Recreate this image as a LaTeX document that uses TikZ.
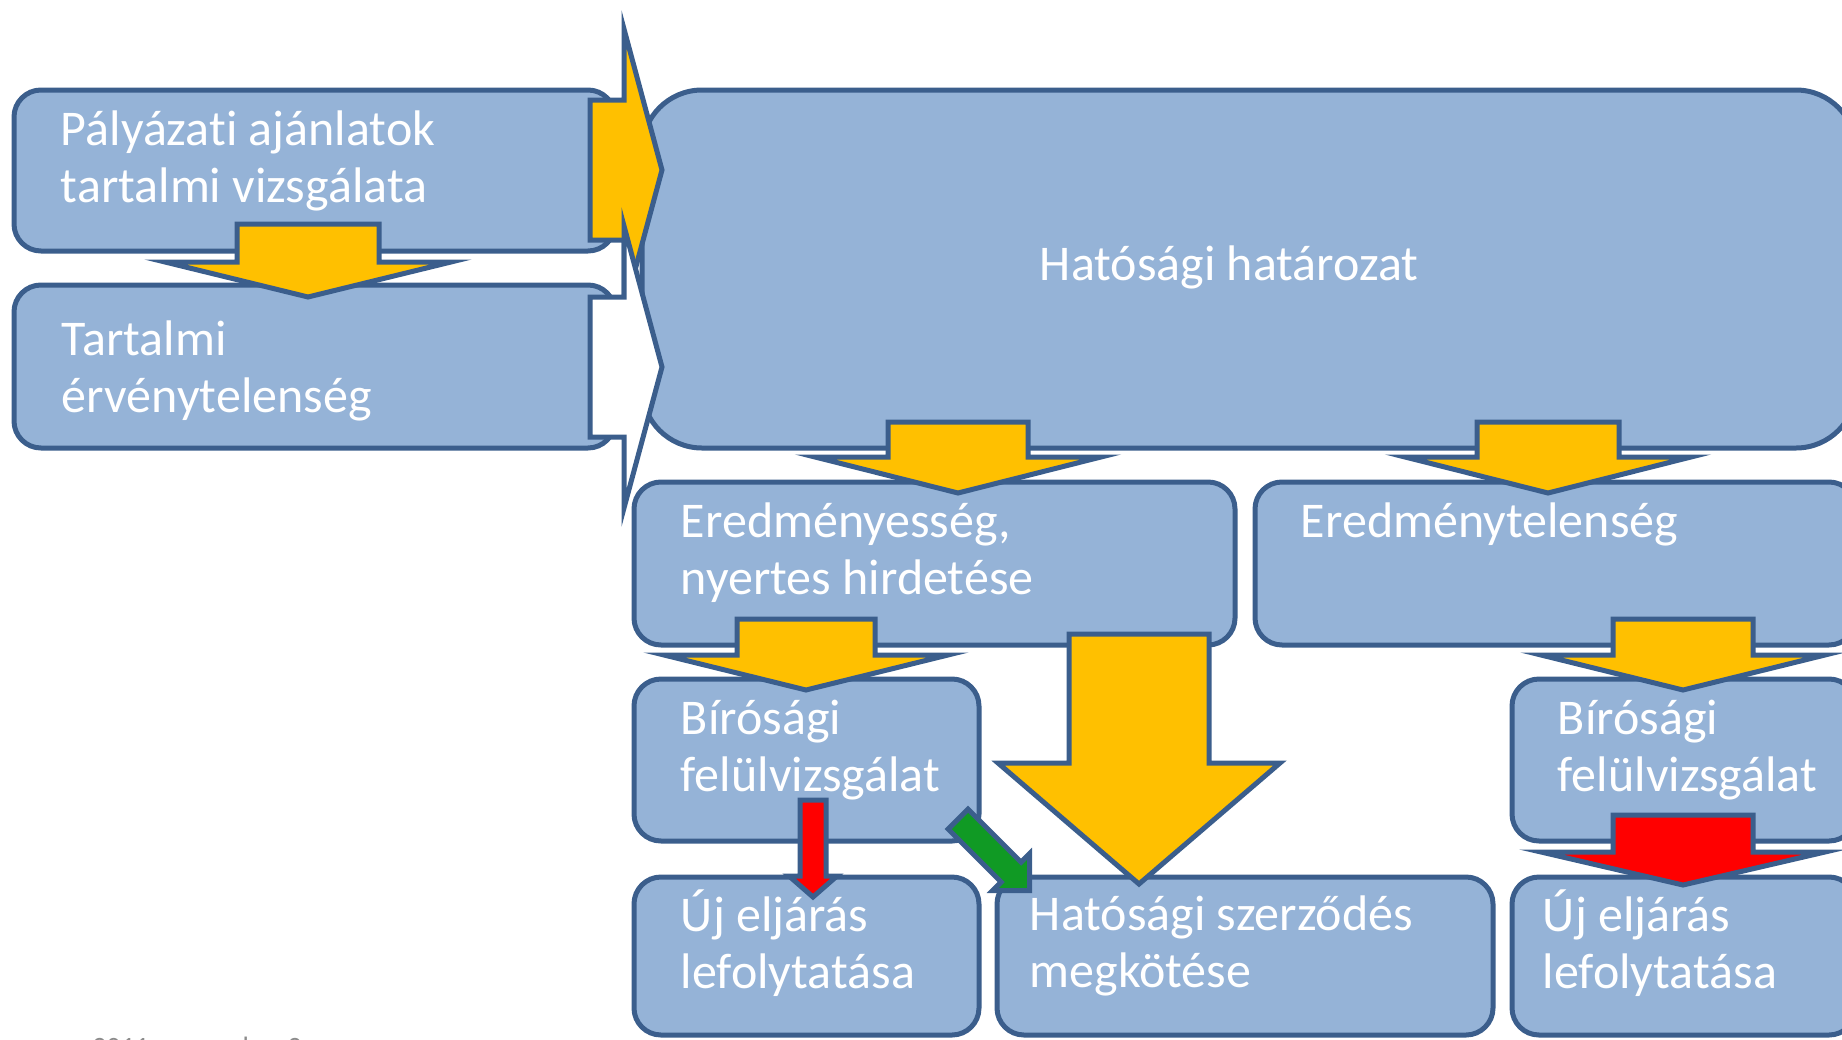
\documentclass[tikz,border=0pt]{standalone}
\usepackage{fontspec}
\setmainfont{Carlito}[Ligatures=NoCommon]
\usetikzlibrary{calc,fit}
\definecolor{boxfill}{HTML}{95B3D7}
\definecolor{boxline}{HTML}{3B5E8C}
\definecolor{arryel}{HTML}{FFC000}
\definecolor{arrred}{HTML}{FF0000}
\definecolor{arrgreen}{HTML}{109A24}
\definecolor{dategrey}{HTML}{8C8C8C}
\tikzset{
	box/.style={draw=boxline,fill=boxfill,line width=2.5pt,rounded corners=13.5pt,inner sep=0pt},
	bigbox/.style={box,rounded corners=30pt},
	txt/.style={text=white,anchor=base west,align=left,inner sep=0pt,font=\fontsize{25pt}{28.5pt}\selectfont},
	yarr/.style={draw=boxline,fill=arryel,line width=2.5pt},
	warr/.style={draw=boxline,fill=white,line width=2.5pt},
	rarr/.style={draw=boxline,fill=arrred,line width=2.5pt},
	garr/.style={draw=boxline,fill=arrgreen,line width=2.5pt}
}
% style, x, shaft top, head base, tip, shaft half width, head half width
\newcommand{\blockdown}[7]{\draw[#1] (#2-#6,#3) -- (#2+#6,#3) -- (#2+#6,#4) -- (#2+#7,#4) -- (#2,#5) -- (#2-#7,#4) -- (#2-#6,#4) -- cycle;}

\begin{document}
\begin{tikzpicture}[x=0.5pt,y=-0.5pt]
	\path[use as bounding box,clip] (0,0) rectangle (1842,1039);

	\node [box,fit={(14,90) (615,251)}] (palyazat) {};
	\node [box,fit={(14,285) (615,448)}] (ervtelen) {};
	\node [bigbox,fit={(642,90) (1856,448)}] (hatarozat) {};
	\node [box,fit={(634,482) (1235,645)}] (eredmenyes) {};
	\node [box,fit={(1255,482) (1856,645)}] (eredmenytelen) {};
	\node [box,fit={(634,679) (979,841)}] (birosag) {};
	\node [box,fit={(1512,679) (1856,841)}] (birosagb) {};
	\node [box,fit={(634,877) (979,1035)}] (ujeljaras) {};
	\node [box,fit={(997,877) (1493,1035)}] (szerzodes) {};
	\node [box,fit={(1512,877) (1856,1035)}] (ujeljarasb) {};

	% base = last line
	\node [txt] (palyazat-t) at ($(palyazat.north west)+(49,115)$) {Pályázati ajánlatok\\tartalmi vizsgálata};
	\node [txt] (ervtelen-t) at ($(ervtelen.north west)+(50,130)$) {Tartalmi\\érvénytelenség};
	\node [txt] (hatarozat-t) at ($(hatarozat.north west)+(400,193)$) {Hatósági határozat};
	\node [txt] (eredmenyes-t) at ($(eredmenyes.north west)+(49,115)$) {Eredményesség,\\nyertes hirdetése};
	\node [txt] (eredmenytelen-t) at ($(eredmenytelen.north west)+(48,58)$) {Eredménytelenség};
	\node [txt] (birosag-t) at ($(birosag.north west)+(49,115)$) {Bírósági\\felülvizsgálat};
	\node [txt] (birosagb-t) at ($(birosagb.north west)+(48,115)$) {Bírósági\\felülvizsgálat};
	\node [txt] (ujeljaras-t) at ($(ujeljaras.north west)+(49,114)$) {Új eljárás\\lefolytatása};
	\node [txt] (szerzodes-t) at ($(szerzodes.north west)+(35,113)$) {Hatósági szerződés\\megkötése};
	\node [txt] (ujeljarasb-t) at ($(ujeljarasb.north west)+(33,114)$) {Új eljárás\\lefolytatása};

	\draw [yarr] (590,100) -- (624,100) -- (624,29) -- (662,170) -- (624,311) -- (624,240) -- (590,240) -- cycle;
	\draw [warr] (590,297) -- (624,297) -- (624,226) -- (662,367) -- (624,508) -- (624,437) -- (590,437) -- cycle;

	\blockdown{yarr}{308}{224}{262}{297}{71}{143}
	\blockdown{yarr}{958}{422}{457}{493}{70}{143}
	\blockdown{yarr}{1548}{422}{457}{493}{71}{143}
	\blockdown{yarr}{806}{619}{655}{690}{69}{142}
	\blockdown{yarr}{1683}{619}{655}{690}{70}{142}
	\blockdown{yarr}{1139}{634}{763}{884}{70}{141}
	\blockdown{rarr}{813}{800}{876}{897}{13}{24}
	\blockdown{rarr}{1683}{815}{852}{885}{70}{142}

	\draw [garr] (968,809.2) -- (1021,862.2) -- (1029.5,853.7) -- (1029.5,890.5) -- (992.7,890.5) -- (1001.2,882) -- (948.2,829) -- cycle;

	\node [text=dategrey,anchor=base west,inner sep=0pt,font=\fontsize{14pt}{16pt}\selectfont] (datum) at (92,1056) {2011. november 3};
\end{tikzpicture}
\end{document}
